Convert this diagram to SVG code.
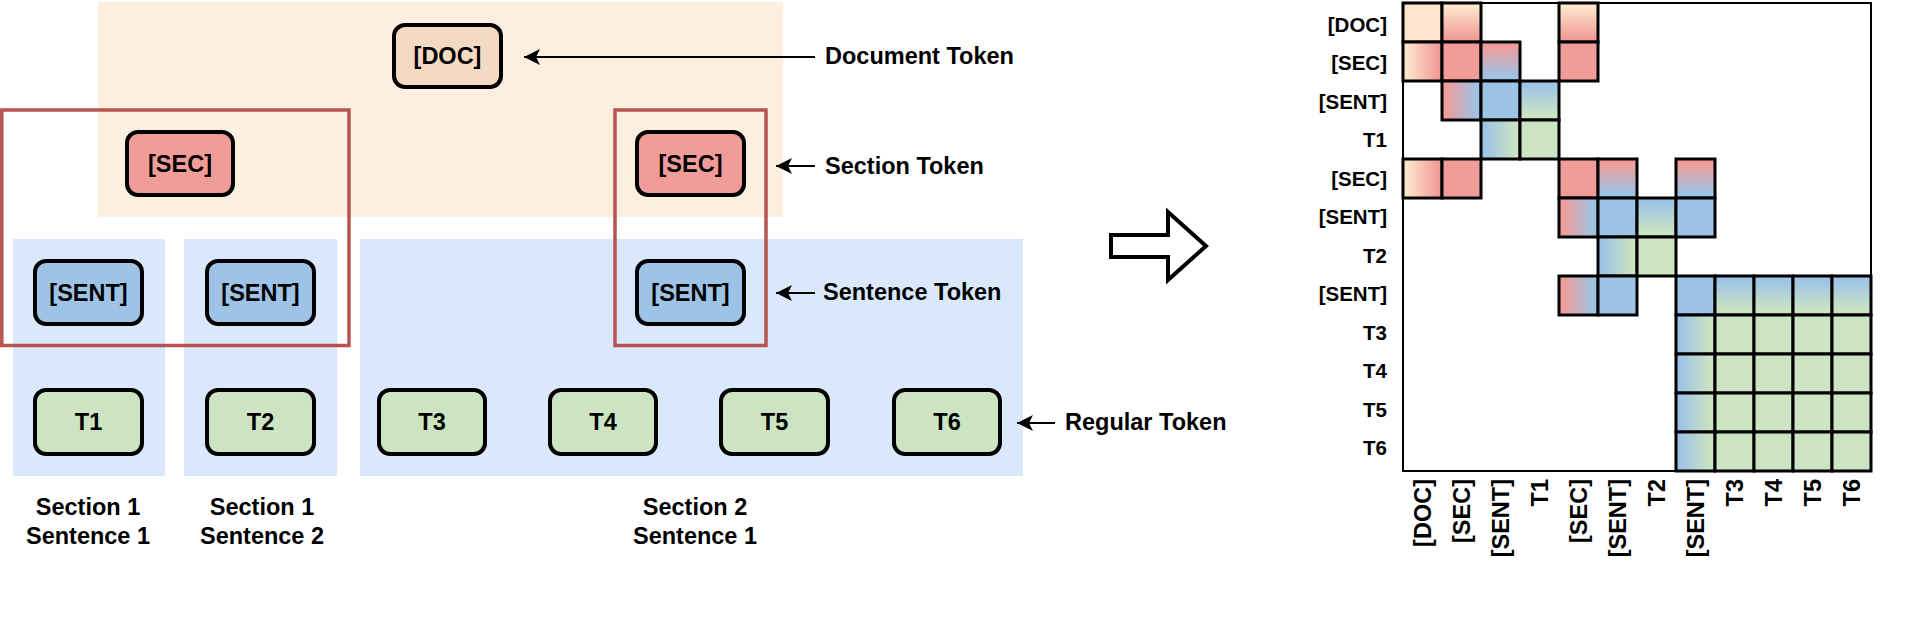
<svg xmlns="http://www.w3.org/2000/svg" width="1926" height="622" viewBox="0 0 1926 622">
<style>
text{font-family:"Liberation Sans",Arial,sans-serif;font-weight:bold;font-size:23.5px;fill:#000}
.c{text-anchor:middle}
.e{text-anchor:end}
.rl{font-size:20.5px;text-anchor:end}
.node{stroke:#000;stroke-width:4}
.doc{fill:#F4D9C3}
.sec{fill:#F19C99}
.sent{fill:#9DC3E6}
.tok{fill:#CCE4C2}
.grp{stroke:#B85450;stroke-width:3.5;fill:none}
.conn{stroke:#000;stroke-width:2;fill:none}
.cell{stroke:#000;stroke-width:3}
</style>
<defs>
<marker id="ah" markerUnits="userSpaceOnUse" markerWidth="18" markerHeight="18" refX="16" refY="8" orient="auto">
<path d="M0,0 L16,8 L0,16 L4,8 z" fill="#000"/>
</marker>
<linearGradient id="vPR" x1="0" y1="0" x2="0" y2="1"><stop offset="0.1" stop-color="#FFE6CC"/><stop offset="0.9" stop-color="#F19C99"/></linearGradient>
<linearGradient id="hPR" x1="0" y1="0" x2="1" y2="0"><stop offset="0.1" stop-color="#FFE6CC"/><stop offset="0.9" stop-color="#F19C99"/></linearGradient>
<linearGradient id="vRB" x1="0" y1="0" x2="0" y2="1"><stop offset="0.1" stop-color="#F19C99"/><stop offset="0.9" stop-color="#9DC3E6"/></linearGradient>
<linearGradient id="hRB" x1="0" y1="0" x2="1" y2="0"><stop offset="0.1" stop-color="#F19C99"/><stop offset="0.9" stop-color="#9DC3E6"/></linearGradient>
<linearGradient id="vBG" x1="0" y1="0" x2="0" y2="1"><stop offset="0.1" stop-color="#9DC3E6"/><stop offset="0.9" stop-color="#CCE4C2"/></linearGradient>
<linearGradient id="hBG" x1="0" y1="0" x2="1" y2="0"><stop offset="0.1" stop-color="#9DC3E6"/><stop offset="0.9" stop-color="#CCE4C2"/></linearGradient>
</defs>
<rect width="1926" height="622" fill="#fff"/>

<g id="backgrounds">
<rect x="98" y="2" width="685" height="215" fill="#FDEFE0"/>
<rect x="13" y="239" width="152" height="237" fill="#DAE8FC"/>
<rect x="184" y="239" width="153" height="237" fill="#DAE8FC"/>
<rect x="360" y="239" width="663" height="237" fill="#DAE8FC"/>
</g>

<g id="section-groups">
<rect class="grp" x="1.8" y="110" width="347.2" height="235.5"/>
<rect class="grp" x="615" y="110" width="151" height="235.5"/>
</g>

<g id="node-doc"><rect class="node doc" x="394" y="25" width="107" height="62" rx="11"/><text class="c" x="447.5" y="64">[DOC]</text></g>
<g id="node-sec1"><rect class="node sec" x="127" y="132" width="106" height="63" rx="11"/><text class="c" x="180" y="172">[SEC]</text></g>
<g id="node-sec2"><rect class="node sec" x="637" y="132" width="107" height="63" rx="11"/><text class="c" x="690.5" y="172">[SEC]</text></g>
<g id="node-sent1"><rect class="node sent" x="35" y="261" width="107" height="63" rx="11"/><text class="c" x="88.5" y="301">[SENT]</text></g>
<g id="node-sent2"><rect class="node sent" x="207" y="261" width="107" height="63" rx="11"/><text class="c" x="260.5" y="301">[SENT]</text></g>
<g id="node-sent3"><rect class="node sent" x="637" y="261" width="107" height="63" rx="11"/><text class="c" x="690.5" y="301">[SENT]</text></g>
<g id="node-t1"><rect class="node tok" x="35" y="390" width="107" height="64" rx="11"/><text class="c" x="88.5" y="430">T1</text></g>
<g id="node-t2"><rect class="node tok" x="207" y="390" width="107" height="64" rx="11"/><text class="c" x="260.5" y="430">T2</text></g>
<g id="node-t3"><rect class="node tok" x="379" y="390" width="106" height="64" rx="11"/><text class="c" x="432" y="430">T3</text></g>
<g id="node-t4"><rect class="node tok" x="550" y="390" width="106" height="64" rx="11"/><text class="c" x="603" y="430">T4</text></g>
<g id="node-t5"><rect class="node tok" x="721" y="390" width="107" height="64" rx="11"/><text class="c" x="774.5" y="430">T5</text></g>
<g id="node-t6"><rect class="node tok" x="894" y="390" width="106" height="64" rx="11"/><text class="c" x="947" y="430">T6</text></g>

<g id="connectors">
<path class="conn" d="M815,57 L524,57" marker-end="url(#ah)"/>
<path class="conn" d="M815,166 L776,166" marker-end="url(#ah)"/>
<path class="conn" d="M815,293 L776,293" marker-end="url(#ah)"/>
<path class="conn" d="M1055,423 L1017,423" marker-end="url(#ah)"/>
</g>

<g id="legend-labels">
<text x="825" y="64">Document Token</text>
<text x="825" y="174">Section Token</text>
<text x="823" y="300">Sentence Token</text>
<text x="1065" y="430">Regular Token</text>
</g>

<g id="section-labels">
<text class="c" x="88" y="515">Section 1</text><text class="c" x="88" y="544">Sentence 1</text>
<text class="c" x="262" y="515">Section 1</text><text class="c" x="262" y="544">Sentence 2</text>
<text class="c" x="695" y="515">Section 2</text><text class="c" x="695" y="544">Sentence 1</text>
</g>

<g id="big-arrow">
<polygon points="1111,235 1168,235 1168,212 1206,246 1168,280 1168,257 1111,257" fill="#fff" stroke="#000" stroke-width="4"/>
</g>

<g id="matrix">
<rect x="1403" y="3" width="468" height="468" fill="#fff" stroke="#000" stroke-width="2"/>
<g class="cell">
<rect x="1403" y="3" width="39" height="39" fill="#FFE6CC"/>
<rect x="1442" y="3" width="39" height="39" fill="url(#vPR)"/>
<rect x="1559" y="3" width="39" height="39" fill="url(#vPR)"/>

<rect x="1403" y="42" width="39" height="39" fill="url(#hPR)"/>
<rect x="1442" y="42" width="39" height="39" fill="#F19C99"/>
<rect x="1481" y="42" width="39" height="39" fill="url(#vRB)"/>
<rect x="1559" y="42" width="39" height="39" fill="#F19C99"/>

<rect x="1442" y="81" width="39" height="39" fill="url(#hRB)"/>
<rect x="1481" y="81" width="39" height="39" fill="#9DC3E6"/>
<rect x="1520" y="81" width="39" height="39" fill="url(#vBG)"/>

<rect x="1481" y="120" width="39" height="39" fill="url(#hBG)"/>
<rect x="1520" y="120" width="39" height="39" fill="#CCE4C2"/>

<rect x="1403" y="159" width="39" height="39" fill="url(#hPR)"/>
<rect x="1442" y="159" width="39" height="39" fill="#F19C99"/>
<rect x="1559" y="159" width="39" height="39" fill="#F19C99"/>
<rect x="1598" y="159" width="39" height="39" fill="url(#vRB)"/>
<rect x="1676" y="159" width="39" height="39" fill="url(#vRB)"/>

<rect x="1559" y="198" width="39" height="39" fill="url(#hRB)"/>
<rect x="1598" y="198" width="39" height="39" fill="#9DC3E6"/>
<rect x="1637" y="198" width="39" height="39" fill="url(#vBG)"/>
<rect x="1676" y="198" width="39" height="39" fill="#9DC3E6"/>

<rect x="1598" y="237" width="39" height="39" fill="url(#hBG)"/>
<rect x="1637" y="237" width="39" height="39" fill="#CCE4C2"/>

<rect x="1559" y="276" width="39" height="39" fill="url(#hRB)"/>
<rect x="1598" y="276" width="39" height="39" fill="#9DC3E6"/>
<rect x="1676" y="276" width="39" height="39" fill="#9DC3E6"/>
<rect x="1715" y="276" width="39" height="39" fill="url(#vBG)"/>
<rect x="1754" y="276" width="39" height="39" fill="url(#vBG)"/>
<rect x="1793" y="276" width="39" height="39" fill="url(#vBG)"/>
<rect x="1832" y="276" width="39" height="39" fill="url(#vBG)"/>

<rect x="1676" y="315" width="39" height="39" fill="url(#hBG)"/>
<rect x="1715" y="315" width="39" height="39" fill="#CCE4C2"/>
<rect x="1754" y="315" width="39" height="39" fill="#CCE4C2"/>
<rect x="1793" y="315" width="39" height="39" fill="#CCE4C2"/>
<rect x="1832" y="315" width="39" height="39" fill="#CCE4C2"/>

<rect x="1676" y="354" width="39" height="39" fill="url(#hBG)"/>
<rect x="1715" y="354" width="39" height="39" fill="#CCE4C2"/>
<rect x="1754" y="354" width="39" height="39" fill="#CCE4C2"/>
<rect x="1793" y="354" width="39" height="39" fill="#CCE4C2"/>
<rect x="1832" y="354" width="39" height="39" fill="#CCE4C2"/>

<rect x="1676" y="393" width="39" height="39" fill="url(#hBG)"/>
<rect x="1715" y="393" width="39" height="39" fill="#CCE4C2"/>
<rect x="1754" y="393" width="39" height="39" fill="#CCE4C2"/>
<rect x="1793" y="393" width="39" height="39" fill="#CCE4C2"/>
<rect x="1832" y="393" width="39" height="39" fill="#CCE4C2"/>

<rect x="1676" y="432" width="39" height="39" fill="url(#hBG)"/>
<rect x="1715" y="432" width="39" height="39" fill="#CCE4C2"/>
<rect x="1754" y="432" width="39" height="39" fill="#CCE4C2"/>
<rect x="1793" y="432" width="39" height="39" fill="#CCE4C2"/>
<rect x="1832" y="432" width="39" height="39" fill="#CCE4C2"/>
</g>
</g>

<g id="row-labels">
<text class="rl" x="1387" y="31.5">[DOC]</text>
<text class="rl" x="1387" y="70">[SEC]</text>
<text class="rl" x="1387" y="108.5">[SENT]</text>
<text class="rl" x="1387" y="147">T1</text>
<text class="rl" x="1387" y="185.5">[SEC]</text>
<text class="rl" x="1387" y="224">[SENT]</text>
<text class="rl" x="1387" y="262.5">T2</text>
<text class="rl" x="1387" y="301">[SENT]</text>
<text class="rl" x="1387" y="339.5">T3</text>
<text class="rl" x="1387" y="378">T4</text>
<text class="rl" x="1387" y="416.5">T5</text>
<text class="rl" x="1387" y="455">T6</text>
</g>

<g id="col-labels">
<text class="e" transform="translate(1430.5,479) rotate(-90)">[DOC]</text>
<text class="e" transform="translate(1469.5,479) rotate(-90)">[SEC]</text>
<text class="e" transform="translate(1508.5,479) rotate(-90)">[SENT]</text>
<text class="e" transform="translate(1547.5,479) rotate(-90)">T1</text>
<text class="e" transform="translate(1586.5,479) rotate(-90)">[SEC]</text>
<text class="e" transform="translate(1625.5,479) rotate(-90)">[SENT]</text>
<text class="e" transform="translate(1664.5,479) rotate(-90)">T2</text>
<text class="e" transform="translate(1703.5,479) rotate(-90)">[SENT]</text>
<text class="e" transform="translate(1742.5,479) rotate(-90)">T3</text>
<text class="e" transform="translate(1781.5,479) rotate(-90)">T4</text>
<text class="e" transform="translate(1820.5,479) rotate(-90)">T5</text>
<text class="e" transform="translate(1859.5,479) rotate(-90)">T6</text>
</g>
</svg>
